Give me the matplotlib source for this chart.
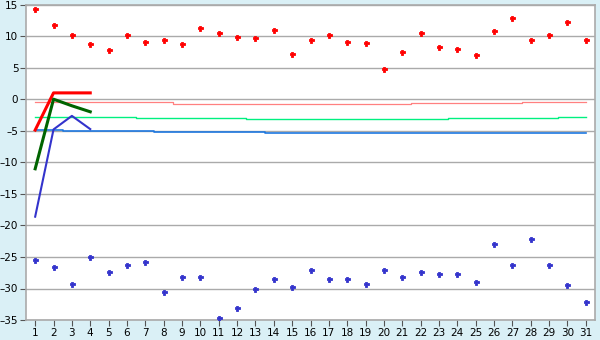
import matplotlib.pyplot as plt
import numpy as np
from matplotlib.ticker import FuncFormatter

days = list(range(1, 32))

# daily scatter series
red_points = [14.3, 11.9, 10.2, 8.8, 7.8, 10.2, 9.1, 9.5, 8.8, 11.3,
              10.5, 9.9, 9.7, 11.0, 7.2, 9.5, 10.3, 9.1, 8.9, 4.8,
              7.5, 10.5, 8.3, 8.0, 7.0, 10.8, 12.9, 9.5, 10.3, 12.3, 9.4]
blue_points = [-25.5, -26.6, -29.3, -25.0, -27.4, -26.3, -25.8, -30.6, -28.2, -28.2,
               -34.7, -33.1, -30.1, -28.5, -29.8, -27.1, -28.5, -28.5, -29.3, -27.1,
               -28.1, -27.4, -27.7, -27.7, -28.9, -23.0, -26.3, -22.2, -26.3, -29.5, -32.2]

# short lines over the first four days
first_days = [1, 2, 3, 4]
red_line = [-4.85, 1.05, 1.05, 1.05]
green_line = [-11.0, 0.05, -1.0, -1.95]
blue_line = [-18.6, -4.75, -2.6, -4.7]

# thin step lines (one value per day)
pink_steps = [-0.45] * 8 + [-0.77] * 13 + [-0.61] * 6 + [-0.45] * 4
lightgreen_steps = [-2.83] * 6 + [-2.99] * 6 + [-3.15] * 11 + [-2.99] * 6 + [-2.83] * 2
lightblue_steps = [-4.89] * 2 + [-5.05] * 5 + [-5.21] * 6 + [-5.37] * 18

bg = "#daf0f6"
grid_color = "#aaaaaa"

fig = plt.figure(figsize=(6, 3.4), dpi=100, facecolor=bg)
ax = fig.add_axes([26 / 600, 20 / 340, 569 / 600, 315 / 340])
ax.set_facecolor("white")

ax.set_xlim(0.5, 31.5)
ax.set_ylim(-35, 15)
ax.set_yticks(np.arange(-35, 16, 5))
ax.set_xticks(days)
ax.yaxis.set_major_formatter(FuncFormatter(lambda v, p: f"{v:.0f}".replace("-", "\u2013")))
ax.grid(axis="y", color=grid_color, linewidth=1, zorder=0)
ax.set_axisbelow(True)

for spine in ax.spines.values():
    spine.set_color(grid_color)
    spine.set_linewidth(1.2)

ax.tick_params(axis="both", labelcolor="black", color="#555555", labelsize=7.5,
               length=4, width=0.8, pad=1.5)

# thin step lines
ax.plot(days, pink_steps, drawstyle="steps-mid", color="#ff8080", linewidth=0.9, zorder=2)
ax.plot(days, lightgreen_steps, drawstyle="steps-mid", color="#00f080", linewidth=1.0, zorder=2)
ax.plot(days, lightblue_steps, drawstyle="steps-mid", color="#1e78e0", linewidth=1.2, zorder=2)

# short thick lines
ax.plot(first_days, red_line, color="#ff0000", linewidth=2.2, zorder=3)
ax.plot(first_days, green_line, color="#006400", linewidth=2.2, zorder=3)
ax.plot(first_days, blue_line, color="#3333cc", linewidth=1.5, zorder=3)

# scatter points
ax.plot(days, red_points, linestyle="none", marker="P", markersize=3.6,
        color="#ff0000", markeredgewidth=0.6, zorder=4)
ax.plot(days, blue_points, linestyle="none", marker="P", markersize=3.6,
        color="#3333cc", markeredgewidth=0.6, zorder=4)

plt.savefig("out.png", dpi=100, facecolor=bg)
